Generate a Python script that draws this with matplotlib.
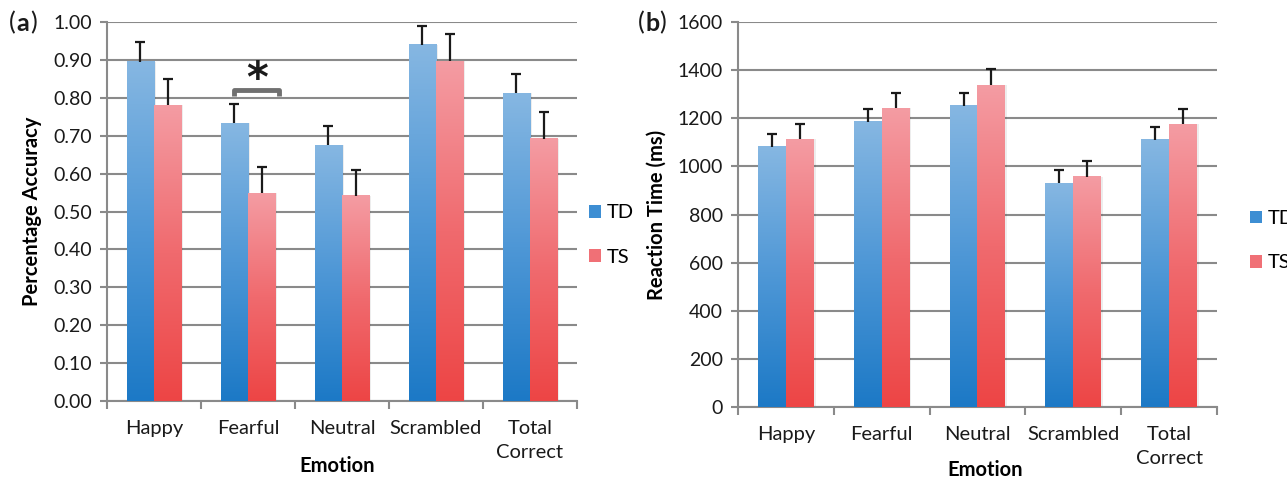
import numpy as np
import matplotlib
matplotlib.use("Agg")
import matplotlib.pyplot as plt
from matplotlib.colors import LinearSegmentedColormap
from matplotlib.patches import Patch

plt.rcParams['font.family'] = ['Lato', 'DejaVu Sans']

emotions = ['Happy', 'Fearful', 'Neutral', 'Scrambled', 'Total\nCorrect']
groups = ['TD', 'TS']

acc_td = [0.895, 0.733, 0.675, 0.940, 0.812]
acc_ts = [0.781, 0.548, 0.541, 0.897, 0.692]
acc_td_err = [0.051, 0.051, 0.050, 0.050, 0.050]
acc_ts_err = [0.069, 0.069, 0.068, 0.071, 0.070]

rt_td = [1082, 1186, 1252, 930, 1110]
rt_ts = [1112, 1241, 1338, 957, 1175]
rt_td_err = [54, 54, 54, 56, 54]
rt_ts_err = [64, 63, 66, 64, 64]

blue_cmap = LinearSegmentedColormap.from_list('b', ['#1c79c6', '#4e97d6', '#86b7e2'])
red_cmap = LinearSegmentedColormap.from_list('r', ['#ed4545', '#f06a6e', '#f49ca3'])
grad = np.linspace(0, 1, 256).reshape(-1, 1)

GRID = '#8a8a8a'
TXT = '#1a1a1a'
W = 0.29


def gradient_bars(ax, x, vals, cmap):
    rects = ax.bar(x, vals, width=W, color='none', edgecolor='none', zorder=3)
    for r in rects:
        x0, w, h = r.get_x(), r.get_width(), r.get_height()
        # soft shadow
        ax.bar(x0 + w / 2 + 0.02, h, width=w, bottom=0, color='#000000',
               alpha=0.07, zorder=2.5, linewidth=0)
        ax.imshow(grad, cmap=cmap, origin='lower', aspect='auto',
                  extent=[x0, x0 + w, 0, h], zorder=3, interpolation='bicubic')
    return rects


def upper_errorbars(ax, x, vals, err):
    _, caps, _ = ax.errorbar(x, vals, yerr=[np.zeros(len(vals)), err], fmt='none',
                             ecolor=TXT, elinewidth=1.6, capsize=3.5, capthick=1.6,
                             zorder=4)
    caps[0].set_visible(False)


def panel(ax, td, ts, td_err, ts_err, ymax, step, fmt, ylabel, legend_xy, xlab_xy):
    x = np.arange(len(emotions))
    gradient_bars(ax, x - W / 2, td, blue_cmap)
    gradient_bars(ax, x + W / 2, ts, red_cmap)
    upper_errorbars(ax, x - W / 2, td, td_err)
    upper_errorbars(ax, x + W / 2, ts, ts_err)

    ax.set_xlim(-0.5, len(emotions) - 0.5)
    ax.set_ylim(0, ymax)
    yt = np.arange(0, ymax + step / 2, step)
    ax.set_yticks(yt)
    ax.set_yticklabels([fmt.format(v) for v in yt], fontsize=14, color=TXT)
    ax.grid(axis='y', color=GRID, linewidth=1.5, zorder=0)
    ax.set_axisbelow(True)

    ax.set_xticks(x)
    ax.set_xticklabels(emotions, fontsize=14.5, color=TXT, linespacing=1.45, va='top')
    ax.set_xticks(np.arange(-0.5, len(emotions)), minor=True)
    ax.tick_params(axis='x', which='major', length=0, pad=14)
    ax.tick_params(axis='x', which='minor', length=6, width=1.5, color=GRID)
    ax.tick_params(axis='y', length=5, width=1.5, color=GRID, pad=6)

    for s in ['top', 'right']:
        ax.spines[s].set_visible(False)
    for s in ['left', 'bottom']:
        ax.spines[s].set_color(GRID)
        ax.spines[s].set_linewidth(1.5)

    ax.set_xlabel('Emotion', fontsize=14.5, fontweight='bold', va='center')
    ax.xaxis.set_label_coords(*xlab_xy)
    ax.set_ylabel(ylabel, fontsize=14.5, fontweight='bold', labelpad=8)

    handles = [Patch(facecolor='#3d8ed3', edgecolor='none'),
               Patch(facecolor='#f07076', edgecolor='none')]
    ax.legend(handles, groups, loc='center left', bbox_to_anchor=legend_xy,
              frameon=False, fontsize=14.5, handlelength=0.6, handleheight=0.6,
              handletextpad=0.3, labelspacing=1.35, borderaxespad=0, borderpad=0)


fig = plt.figure(figsize=(12.87, 4.8), dpi=100)
ax1 = fig.add_axes([0.0831, 0.1646, 0.3652, 0.7895])
ax2 = fig.add_axes([0.5734, 0.152, 0.3722, 0.802])

panel(ax1, acc_td, acc_ts, acc_td_err, acc_ts_err, 1.0, 0.1, '{:.2f}',
      'Percentage Accuracy', (1.025, 0.438), (0.49, -0.172))
panel(ax2, rt_td, rt_ts, rt_td_err, rt_ts_err, 1600, 200, '{:.0f}',
      'Reaction Time (ms)', (1.068, 0.432), (0.515, -0.164))

# significance bracket on Fearful
bx0, bx1, by = 1 - W / 2, 1 + W + 0.04, 0.82
ax1.plot([bx0, bx0, bx1, bx1], [by - 0.016, by, by, by - 0.016], color='#707070',
         linewidth=3.5, solid_joinstyle='round', solid_capstyle='butt', zorder=5)
ax1.text((bx0 + bx1) / 2, 0.848, '*', ha='center', va='center', fontsize=30,
         fontweight='bold', color=TXT, zorder=5, family='DejaVu Sans')

# panel labels
for xp, letter in [(0.007, 'a'), (0.496, 'b')]:
    fig.text(xp, 0.952, '(', fontsize=18, va='center', color=TXT)
    fig.text(xp + 0.0055, 0.952, letter, fontsize=18, fontweight='bold', va='center',
             color=TXT)
    fig.text(xp + 0.0162, 0.952, ')', fontsize=18, va='center', color=TXT)

fig.savefig('out.png', dpi=100)
